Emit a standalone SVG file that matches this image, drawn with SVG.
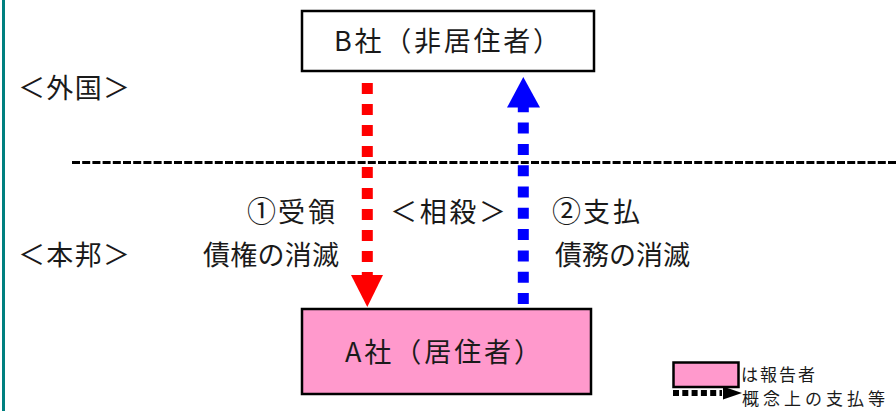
<svg xmlns="http://www.w3.org/2000/svg" width="896" height="411" viewBox="0 0 896 411">
<style>
.t{font-family:"Noto Sans CJK JP","Noto Sans",sans-serif;font-size:27px;fill:#1a1a1a}
.s{font-family:"Noto Sans CJK JP","Noto Sans",sans-serif;font-size:17px;fill:#1a1a1a}
.n{font-size:29px}
.box{stroke:#000;stroke-width:2.5}
</style>
<rect x="0" y="0" width="896" height="411" fill="#fff"/>
<line x1="3.5" y1="0" x2="3.5" y2="411" stroke="#008080" stroke-width="3"/>
<line x1="72" y1="162.5" x2="896" y2="162.5" stroke="#000" stroke-width="3" stroke-dasharray="8 2.2"/>
<text class="t" x="18" y="98" textLength="112" lengthAdjust="spacing">＜外国＞</text>
<text class="t" x="18" y="265" textLength="112" lengthAdjust="spacing">＜本邦＞</text>
<g id="nodeB">
<rect class="box" x="302" y="11" width="292" height="60" fill="#fff"/>
<text class="t" x="334" y="51" textLength="226" lengthAdjust="spacing">B社（非居住者）</text>
</g>
<g id="nodeA">
<rect class="box" x="302" y="309" width="289" height="85" fill="#ff99cc"/>
<text class="t" x="345" y="362" textLength="196" lengthAdjust="spacing">A社（居住者）</text>
</g>
<g id="connectors">
<line x1="367.3" y1="83" x2="367.3" y2="276" stroke="#ff0000" stroke-width="11" stroke-dasharray="11 10"/>
<polygon points="351,275 383,275 367.3,307" fill="#ff0000"/>
<line x1="523.3" y1="304" x2="523.3" y2="107" stroke="#0000ff" stroke-width="11" stroke-dasharray="11 10.3"/>
<polygon points="507,107.5 540,107.5 523.3,77" fill="#0000ff"/>
</g>
<g id="labels">
<text class="t" y="222"><tspan class="n" x="247">①</tspan><tspan x="278" letter-spacing="3">受領</tspan></text>
<text class="t" x="203" y="265" textLength="136" lengthAdjust="spacing">債権の消滅</text>
<text class="t" x="390" y="222" textLength="116" lengthAdjust="spacing">＜相殺＞</text>
<text class="t" y="222"><tspan class="n" x="552">②</tspan><tspan x="583" letter-spacing="3">支払</tspan></text>
<text class="t" x="555" y="265" textLength="135" lengthAdjust="spacing">債務の消滅</text>
</g>
<g id="legend">
<rect x="673.5" y="362.5" width="65" height="24.5" fill="#ff99cc" stroke="#000" stroke-width="2.5"/>
<text class="s" x="741" y="380.5" textLength="74" lengthAdjust="spacing">は報告者</text>
<line x1="673" y1="393" x2="722" y2="393" stroke="#000" stroke-width="6" stroke-dasharray="6 3.3"/>
<polygon points="723,386.5 723,399.5 742,393" fill="#000"/>
<text class="s" x="742" y="404.5" textLength="143" lengthAdjust="spacing">概念上の支払等</text>
</g>
</svg>
